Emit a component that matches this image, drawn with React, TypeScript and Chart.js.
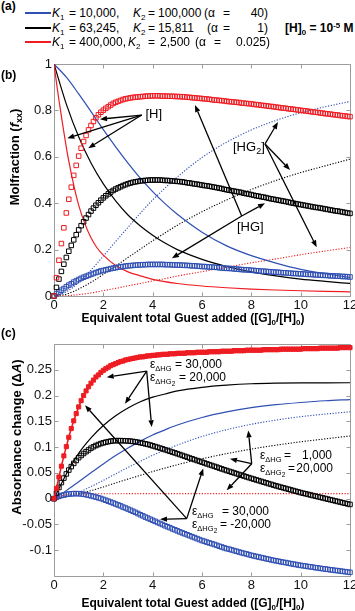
import React, { useEffect, useRef } from 'react';
import { Chart, registerables } from 'chart.js';
Chart.register(...registerables);

const FONT = '"Liberation Sans", Arial, sans-serif';
const BLUE = '#2f4fb3';
const RED = '#ee1d23';
const BLACK = '#000000';
const FRAME = '#9c9c9c';

// ---------- x values (equivalents of guest added) ----------
const equivFine = [0,0.1,0.2,0.3,0.4,0.5,0.6,0.7,0.8,0.9,1,1.1,1.2,1.3,1.4,1.5,1.6,1.7,1.8,1.9,2,2.1,2.2,2.3,2.4,2.5,2.6,2.7,2.8,2.9,3,3.1,3.2,3.3,3.4,3.5,3.6,3.7,3.8,3.9,4,4.1,4.2,4.3,4.4,4.5,4.6,4.7,4.8,4.9,5,5.1,5.2,5.3,5.4,5.5,5.6,5.7,5.8,5.9,6,6.1,6.2,6.3,6.4,6.5,6.6,6.7,6.8,6.9,7,7.1,7.2,7.3,7.4,7.5,7.6,7.7,7.8,7.9,8,8.1,8.2,8.3,8.4,8.5,8.6,8.7,8.8,8.9,9,9.1,9.2,9.3,9.4,9.5,9.6,9.7,9.8,9.9,10,10.1,10.2,10.3,10.4,10.5,10.6,10.7,10.8,10.9,11,11.1,11.2,11.3,11.4,11.5,11.6,11.7,11.8,11.9,12];
const equivCoarse = [0,0.5,1,1.5,2,2.5,3,3.5,4,4.5,5,6,7,8,9,10,11,12];
const equivRedH = [0,0.1,0.2,0.3,0.4,0.5,0.6,0.8,1,1.25,1.5,1.75,2,2.5,3,3.5,4,5,6,7,8,9,10,11,12];
const equivRedDotC = [0,0.2,0.4,0.6,1,2,4,6,8,10,12];

const xTicks = [0,2,4,6,8,10,12];
const yTicksB = [0,0.2,0.4,0.6,0.8,1];
const yTicksC = [-0.1,-0.05,0,0.05,0.1,0.15,0.2,0.25];

// ---------- panel (b): mole fractions ----------
// [H] (solid lines)
const bBlueH = [1,0.943,0.871,0.795,0.717,0.643,0.573,0.508,0.45,0.398,0.352,0.275,0.216,0.174,0.142,0.115,0.096,0.08];
const bBlackH = [1,0.827,0.686,0.573,0.483,0.41,0.349,0.302,0.262,0.228,0.2,0.158,0.127,0.104,0.0866,0.073,0.063,0.054];
const bRedH = [1,0.92,0.845,0.775,0.706,0.641,0.581,0.478,0.392,0.312,0.251,0.207,0.176,0.131,0.104,0.087,0.072,0.054,0.043,0.0355,0.0298,0.0258,0.0226,0.02,0.018];
// [HG2] (dotted lines)
const bBlueHG2 = [0,0.018,0.058,0.112,0.172,0.235,0.296,0.357,0.414,0.465,0.513,0.597,0.663,0.716,0.757,0.79,0.816,0.838];
const bBlackHG2 = [0,0.008,0.03,0.059,0.093,0.129,0.166,0.202,0.238,0.272,0.305,0.363,0.414,0.459,0.498,0.532,0.561,0.59];
const bRedHG2 = [0,0.001,0.006,0.013,0.023,0.033,0.044,0.054,0.065,0.075,0.086,0.105,0.124,0.143,0.16,0.178,0.194,0.209];
// [HG] (square markers)
const bRedHG = [
  0,0.079,0.154,0.226,0.294,0.358,0.417,0.469,0.52,0.563,
  0.603,0.637,0.666,0.692,0.716,0.735,0.752,0.768,0.781,0.792,
  0.801,0.809,0.816,0.823,0.83,0.835,0.839,0.843,0.847,0.85,
  0.852,0.854,0.856,0.857,0.858,0.859,0.86,0.861,0.862,0.862,
  0.863,0.863,0.863,0.862,0.862,0.862,0.861,0.861,0.861,0.86,
  0.86,0.859,0.859,0.858,0.857,0.856,0.855,0.854,0.853,0.852,
  0.851,0.85,0.849,0.848,0.846,0.845,0.844,0.843,0.842,0.841,
  0.839,0.838,0.837,0.836,0.835,0.834,0.832,0.831,0.83,0.829,
  0.828,0.826,0.825,0.824,0.822,0.821,0.82,0.818,0.817,0.816,
  0.814,0.813,0.811,0.81,0.809,0.807,0.806,0.805,0.803,0.802,
  0.8,0.799,0.798,0.796,0.795,0.793,0.792,0.791,0.789,0.788,
  0.786,0.785,0.784,0.782,0.781,0.78,0.778,0.777,0.776,0.774,
  0.773];
const bBlackHG = [
  0,0.037,0.073,0.106,0.137,0.166,0.193,0.218,0.242,0.264,
  0.285,0.303,0.32,0.336,0.351,0.366,0.379,0.391,0.402,0.413,
  0.423,0.432,0.44,0.448,0.455,0.461,0.466,0.471,0.476,0.48,
  0.484,0.487,0.49,0.492,0.494,0.496,0.497,0.498,0.499,0.5,
  0.5,0.5,0.5,0.5,0.499,0.498,0.498,0.497,0.496,0.495,
  0.494,0.493,0.492,0.49,0.488,0.487,0.485,0.483,0.482,0.48,
  0.478,0.476,0.475,0.473,0.471,0.469,0.467,0.465,0.463,0.46,
  0.458,0.456,0.454,0.452,0.45,0.448,0.446,0.443,0.441,0.439,
  0.437,0.434,0.432,0.43,0.428,0.426,0.424,0.421,0.419,0.417,
  0.415,0.413,0.411,0.409,0.407,0.405,0.402,0.4,0.398,0.396,
  0.394,0.392,0.39,0.388,0.386,0.384,0.382,0.381,0.379,0.377,
  0.375,0.373,0.371,0.369,0.367,0.366,0.364,0.362,0.36,0.358,
  0.356];
const bBlueHG = [
  0,0.009,0.017,0.025,0.032,0.04,0.047,0.053,0.06,0.065,
  0.071,0.076,0.081,0.085,0.089,0.093,0.097,0.101,0.104,0.108,
  0.11,0.113,0.115,0.118,0.12,0.122,0.124,0.126,0.127,0.129,
  0.13,0.131,0.132,0.133,0.134,0.134,0.135,0.135,0.136,0.136,
  0.136,0.136,0.136,0.136,0.136,0.135,0.135,0.135,0.134,0.134,
  0.134,0.133,0.133,0.132,0.132,0.131,0.13,0.13,0.129,0.128,
  0.127,0.127,0.126,0.125,0.125,0.124,0.123,0.122,0.121,0.12,
  0.119,0.119,0.118,0.117,0.116,0.115,0.114,0.113,0.113,0.112,
  0.111,0.11,0.109,0.108,0.107,0.107,0.106,0.105,0.104,0.103,
  0.103,0.102,0.101,0.1,0.1,0.099,0.098,0.097,0.097,0.096,
  0.095,0.095,0.094,0.093,0.093,0.092,0.091,0.091,0.09,0.089,
  0.089,0.088,0.087,0.087,0.086,0.086,0.085,0.084,0.084,0.083,
  0.082];

// ---------- panel (c): absorbance change ----------
const cRedA = [
  0,0.02,0.042,0.063,0.083,0.101,0.119,0.136,0.151,0.165,
  0.178,0.19,0.2,0.209,0.217,0.224,0.23,0.236,0.24,0.245,
  0.249,0.252,0.255,0.258,0.26,0.262,0.264,0.266,0.267,0.269,
  0.27,0.271,0.272,0.273,0.274,0.275,0.275,0.276,0.277,0.277,
  0.278,0.278,0.279,0.279,0.28,0.28,0.28,0.281,0.281,0.281,
  0.282,0.282,0.282,0.282,0.283,0.283,0.283,0.283,0.284,0.284,
  0.284,0.284,0.284,0.285,0.285,0.285,0.285,0.285,0.286,0.286,
  0.286,0.286,0.286,0.287,0.287,0.287,0.287,0.287,0.288,0.288,
  0.288,0.288,0.288,0.288,0.288,0.289,0.289,0.289,0.289,0.289,
  0.289,0.289,0.29,0.29,0.29,0.29,0.29,0.29,0.29,0.29,
  0.29,0.291,0.291,0.291,0.291,0.291,0.291,0.291,0.292,0.292,
  0.292,0.292,0.292,0.292,0.292,0.292,0.293,0.293,0.293,0.293,
  0.293];
const cBlackA = [
  0,0.011,0.0217,0.0312,0.0399,0.048,0.0555,0.0622,0.0684,0.074,
  0.0795,0.0837,0.0876,0.0912,0.0945,0.098,0.1007,0.1031,0.105,0.1069,
  0.1083,0.1096,0.1106,0.1116,0.1121,0.1125,0.1126,0.1125,0.1124,0.1122,
  0.112,0.1115,0.111,0.1102,0.1094,0.1086,0.1075,0.1064,0.1053,0.1041,
  0.1025,0.1011,0.0996,0.0981,0.0966,0.095,0.0935,0.0919,0.0903,0.0888,
  0.0872,0.0855,0.0839,0.0822,0.0806,0.0789,0.0773,0.0757,0.074,0.0724,
  0.0708,0.0692,0.0675,0.0659,0.0643,0.0627,0.0611,0.0594,0.0578,0.0562,
  0.0546,0.0531,0.0515,0.05,0.0485,0.0469,0.0454,0.0439,0.0423,0.0408,
  0.0393,0.0379,0.0364,0.035,0.0335,0.0321,0.0307,0.0292,0.0278,0.0263,
  0.0249,0.0236,0.0223,0.021,0.0197,0.0184,0.017,0.0157,0.0144,0.0131,
  0.0118,0.0106,0.0095,0.0083,0.0072,0.006,0.0049,0.0037,0.0026,0.0014,
  0.0003,-0.0009,-0.002,-0.0032,-0.0043,-0.0055,-0.0066,-0.0078,-0.0089,-0.0101,
  -0.0112];
const cBlueA = [
  0,0.0025,0.0045,0.0061,0.0072,0.0084,0.0091,0.0093,0.0098,0.0097,
  0.0097,0.0092,0.0085,0.0077,0.0067,0.0055,0.0043,0.0031,0.0016,0.0004,
  -0.0014,-0.0031,-0.0049,-0.0066,-0.0084,-0.0104,-0.0122,-0.014,-0.0163,-0.0181,
  -0.0202,-0.0223,-0.0244,-0.0265,-0.0288,-0.0312,-0.0333,-0.0357,-0.0376,-0.0398,
  -0.042,-0.044,-0.0462,-0.0482,-0.0502,-0.0525,-0.0545,-0.0563,-0.0586,-0.0604,
  -0.0624,-0.0645,-0.0663,-0.0682,-0.07,-0.0719,-0.0738,-0.0756,-0.0775,-0.0794,
  -0.0813,-0.0827,-0.0844,-0.0859,-0.0873,-0.0888,-0.0905,-0.0922,-0.0937,-0.0954,
  -0.0969,-0.0979,-0.0994,-0.1007,-0.102,-0.1035,-0.1048,-0.1061,-0.1071,-0.1086,
  -0.1099,-0.111,-0.1121,-0.1132,-0.1143,-0.1153,-0.1164,-0.1175,-0.1186,-0.1197,
  -0.1205,-0.1214,-0.1225,-0.1234,-0.124,-0.1251,-0.126,-0.1269,-0.1277,-0.1286,
  -0.1295,-0.1301,-0.1308,-0.1317,-0.1321,-0.133,-0.1339,-0.1343,-0.1352,-0.1359,
  -0.1365,-0.1372,-0.1379,-0.1385,-0.1392,-0.1396,-0.1403,-0.141,-0.1416,-0.1423,
  -0.143];
const cBlackLine = [0,0.048,0.088,0.118,0.142,0.161,0.176,0.188,0.197,0.203,0.209,0.216,0.2202,0.2229,0.2241,0.2246,0.2247,0.2248];
const cBlueLine = [0,0.0156,0.0329,0.0503,0.0674,0.0836,0.0982,0.1116,0.1236,0.1335,0.1428,0.1575,0.1683,0.1765,0.1823,0.1865,0.1899,0.1922];
const cBlueDot = [0,0.004,0.0123,0.0233,0.0355,0.0482,0.0605,0.0727,0.0842,0.0944,0.1039,0.1207,0.1338,0.1443,0.1524,0.159,0.1641,0.1684];
const cBlackDot = [0,0.0035,0.0089,0.0155,0.0228,0.0304,0.038,0.0452,0.0526,0.0593,0.0659,0.0774,0.0874,0.0962,0.1038,0.1103,0.116,0.1216];
const cRedDot = [0,0.004,0.0065,0.008,0.0092,0.0096,0.0097,0.0097,0.0097,0.0097,0.0097];

// ---------- annotation arrows (data coordinates) ----------
type Arrow = { from: [number, number]; to: [number, number] };
const arrowsB: Arrow[] = [
  { from: [3.555, 0.78], to: [1.865, 0.762] },
  { from: [3.555, 0.78], to: [0.539, 0.68] },
  { from: [3.555, 0.78], to: [1.39, 0.637] },
  { from: [8.554, 0.655], to: [9.08, 0.75] },
  { from: [8.554, 0.655], to: [9.57, 0.543] },
  { from: [8.554, 0.655], to: [10.65, 0.21] },
  { from: [7.61, 0.345], to: [5.716, 0.823] },
  { from: [7.61, 0.345], to: [8.554, 0.4] },
  { from: [7.61, 0.345], to: [4.78, 0.1625] },
];
const arrowsC: Arrow[] = [
  { from: [3.758, 0.2473], to: [2.136, 0.2357] },
  { from: [3.758, 0.2473], to: [2.878, 0.1841] },
  { from: [3.758, 0.2473], to: [3.961, 0.1388] },
  { from: [8.015, 0.0678], to: [7.877, 0.1324] },
  { from: [8.015, 0.0678], to: [7.135, 0.0775] },
  { from: [8.015, 0.0678], to: [7.0, 0.0161] },
  { from: [5.38, -0.0388], to: [6.05, 0.0587] },
  { from: [5.38, -0.0388], to: [1.257, 0.1812] },
  { from: [5.38, -0.0388], to: [4.297, -0.04] },
];

const fmt = (v: any) => String(Number(Number(v).toFixed(3)));
const pts = (xs: number[], ys: number[]) => xs.map((x, i) => ({ x, y: ys[i] }));

function lineDs(xs: number[], ys: number[], color: string, dotted: boolean) {
  return {
    data: pts(xs, ys), showLine: true, borderColor: color, borderWidth: dotted ? 1.1 : 1.2,
    borderDash: dotted ? [1.2, 1.6] : [], pointRadius: 0, fill: false,
    cubicInterpolationMode: 'monotone',
  };
}
function markerDs(xs: number[], ys: number[], color: string, filled: boolean) {
  return {
    data: pts(xs, ys), showLine: filled, borderColor: color, borderWidth: filled ? 1.6 : 0,
    pointStyle: 'rect', pointRadius: filled ? 2.9 : 3.2, pointBorderWidth: 1,
    pointBorderColor: color, pointBackgroundColor: filled ? color : 'rgba(0,0,0,0)',
    clip: false, fill: false,
  };
}

function framePlugin(arrows: Arrow[]) {
  return {
    id: 'frameArrows',
    beforeDatasetsDraw(chart: any) {
      const { ctx, chartArea: a, scales } = chart;
      const l = Math.round(a.left) + 0.5, r = Math.round(a.right) + 0.5;
      const t = Math.round(a.top) + 0.5, b = Math.round(a.bottom) + 0.5;
      ctx.save();
      ctx.strokeStyle = FRAME;
      ctx.lineWidth = 1;
      ctx.beginPath();
      ctx.rect(l, t, r - l, b - t);
      for (const tk of scales.x.ticks) {
        const p = Math.round(scales.x.getPixelForValue(tk.value)) + 0.5;
        ctx.moveTo(p, b); ctx.lineTo(p, b - 4);
        ctx.moveTo(p, t); ctx.lineTo(p, t + 4);
      }
      for (const tk of scales.y.ticks) {
        const p = Math.round(scales.y.getPixelForValue(tk.value)) + 0.5;
        ctx.moveTo(l, p); ctx.lineTo(l + 4, p);
        ctx.moveTo(r, p); ctx.lineTo(r - 4, p);
      }
      ctx.stroke();
      ctx.restore();
    },
    afterDatasetsDraw(chart: any) {
      const { ctx, scales } = chart;
      ctx.save();
      ctx.strokeStyle = '#000';
      ctx.fillStyle = '#000';
      ctx.lineWidth = 1.3;
      for (const ar of arrows) {
        const x0 = scales.x.getPixelForValue(ar.from[0]);
        const y0 = scales.y.getPixelForValue(ar.from[1]);
        const x1 = scales.x.getPixelForValue(ar.to[0]);
        const y1 = scales.y.getPixelForValue(ar.to[1]);
        const ang = Math.atan2(y1 - y0, x1 - x0);
        const L = 7, W = 2.7;
        const bx = x1 - L * Math.cos(ang), by = y1 - L * Math.sin(ang);
        ctx.beginPath(); ctx.moveTo(x0, y0); ctx.lineTo(bx, by); ctx.stroke();
        ctx.beginPath();
        ctx.moveTo(x1, y1);
        ctx.lineTo(bx + W * Math.sin(ang), by - W * Math.cos(ang));
        ctx.lineTo(bx - W * Math.sin(ang), by + W * Math.cos(ang));
        ctx.closePath(); ctx.fill();
      }
      ctx.restore();
    },
  };
}

type PanelProps = { top: number; height: number; xAxisH: number; build: () => any[]; yMin: number; yMax: number; yTicks: number[]; arrows: Arrow[] };

function Panel({ top, height, xAxisH, build, yMin, yMax, yTicks, arrows }: PanelProps) {
  const ref = useRef<HTMLCanvasElement>(null);
  useEffect(() => {
    const tickFont = { family: FONT, size: 13 };
    const chart = new Chart(ref.current as HTMLCanvasElement, {
      type: 'scatter',
      data: { datasets: build() },
      options: {
        responsive: false,
        animation: false,
        events: [],
        layout: { padding: { top: 14, right: 5, left: 0, bottom: 0 } },
        plugins: { legend: { display: false }, tooltip: { enabled: false } },
        scales: {
          x: {
            type: 'linear', min: 0, max: 12,
            grid: { display: false, drawTicks: false },
            border: { display: false },
            ticks: { font: tickFont, color: '#111', padding: 2, maxRotation: 0, autoSkip: false, callback: fmt },
            afterBuildTicks: (s: any) => { s.ticks = xTicks.map((v) => ({ value: v })); },
            afterFit: (s: any) => { s.height = xAxisH; s.paddingLeft = 0; s.paddingRight = 0; },
          },
          y: {
            type: 'linear', min: yMin, max: yMax,
            grid: { display: false, drawTicks: false },
            border: { display: false },
            ticks: { font: tickFont, color: '#111', padding: 2, autoSkip: false, callback: fmt },
            afterBuildTicks: (s: any) => { s.ticks = yTicks.map((v) => ({ value: v })); },
            afterFit: (s: any) => { s.width = 54; s.paddingTop = 0; s.paddingBottom = 0; },
          },
        },
      } as any,
      plugins: [framePlugin(arrows)],
    });
    return () => chart.destroy();
  }, []);
  return <canvas ref={ref} width={355} height={height} style={{ position: 'absolute', left: 0, top, width: 355, height }} />;
}

function buildB() {
  return [
    markerDs(equivFine, bRedHG, RED, false),
    markerDs(equivFine, bBlackHG, BLACK, false),
    markerDs(equivFine, bBlueHG, BLUE, false),
    lineDs(equivRedH, bRedH, RED, false),
    lineDs(equivCoarse, bBlackH, BLACK, false),
    lineDs(equivCoarse, bBlueH, BLUE, false),
    lineDs(equivCoarse, bRedHG2, RED, true),
    lineDs(equivCoarse, bBlackHG2, BLACK, true),
    lineDs(equivCoarse, bBlueHG2, BLUE, true),
  ];
}
function buildC() {
  return [
    markerDs(equivFine, cRedA, RED, true),
    markerDs(equivFine, cBlackA, BLACK, false),
    markerDs(equivFine, cBlueA, BLUE, false),
    lineDs(equivCoarse, cBlackLine, BLACK, false),
    lineDs(equivCoarse, cBlueLine, BLUE, false),
    lineDs(equivCoarse, cBlueDot, BLUE, true),
    lineDs(equivCoarse, cBlackDot, BLACK, true),
    lineDs(equivRedDotC, cRedDot, RED, true),
  ];
}

const Sub = ({ children, size = 8, dy = 3 }: any) => (
  <span style={{ fontSize: size, position: 'relative', top: dy }}>{children}</span>
);
const Sup = ({ children, size = 8, dy = -4 }: any) => (
  <span style={{ fontSize: size, position: 'relative', top: dy }}>{children}</span>
);

function T({ x, cy, size = 12, bold = false, anchor = 'left', children }: any) {
  const tr = anchor === 'center' ? 'translateX(-50%)' : anchor === 'right' ? 'translateX(-100%)' : undefined;
  return (
    <div style={{ position: 'absolute', left: x, top: cy - size * 0.49, fontSize: size, lineHeight: `${size}px`, fontWeight: bold ? 'bold' : 'normal', whiteSpace: 'pre', transform: tr }}>
      {children}
    </div>
  );
}

const K = ({ n }: any) => (<><i>K</i><Sub>{n}</Sub></>);
const Eps = ({ two }: any) => (
  <>ε<span style={{ fontSize: 7.5, position: 'relative', top: 3 }}>ΔHG{two ? <span style={{ fontSize: 6.5, position: 'relative', top: 2 }}>2</span> : null}</span></>
);

function VTitle({ cx, cy, children }: any) {
  return (
    <div style={{ position: 'absolute', left: cx, top: cy, transform: 'translate(-50%,-50%) rotate(-90deg)', fontSize: 13, lineHeight: '13px', fontWeight: 'bold', whiteSpace: 'nowrap' }}>
      {children}
    </div>
  );
}

export default function App() {
  const rows = [12.5, 27.5, 41.5];
  return (
    <div style={{ position: 'absolute', left: 0, top: 0, width: 355, height: 611, background: '#fff', fontFamily: FONT, color: '#000', overflow: 'hidden' }}>
      <Panel top={50} height={280} xAxisH={34} build={buildB} yMin={0} yMax={1} yTicks={yTicksB} arrows={arrowsB} />
      <Panel top={330} height={281} xAxisH={35} build={buildC} yMin={-0.15} yMax={0.3} yTicks={yTicksC} arrows={arrowsC} />

      {/* (a) header legend */}
      <T x={1} cy={6} bold>(a)</T>
      <div style={{ position: 'absolute', left: 25, top: rows[0] - 1, width: 26, height: 2, background: BLUE }} />
      <div style={{ position: 'absolute', left: 25, top: rows[1] - 1, width: 26, height: 2, background: BLACK }} />
      <div style={{ position: 'absolute', left: 25, top: rows[2] - 1, width: 26, height: 2, background: RED }} />

      <T x={52} cy={rows[0]}><K n="1" /></T>
      <T x={69} cy={rows[0]}>= 10,000,</T>
      <T x={133} cy={rows[0]}><K n="2" /></T>
      <T x={148} cy={rows[0]}>=</T>
      <T x={158} cy={rows[0]}>100,000</T>
      <T x={204} cy={rows[0]}>(α</T>
      <T x={223} cy={rows[0]}>=</T>
      <T x={268} cy={rows[0]} anchor="right">40)</T>

      <T x={52} cy={rows[1]}><K n="1" /></T>
      <T x={69} cy={rows[1]}>= 63,245,</T>
      <T x={133} cy={rows[1]}><K n="2" /></T>
      <T x={148} cy={rows[1]}>=</T>
      <T x={158} cy={rows[1]}>15,811</T>
      <T x={207} cy={rows[1]}>(α</T>
      <T x={223} cy={rows[1]}>=</T>
      <T x={268} cy={rows[1]} anchor="right">1)</T>
      <T x={285} cy={rows[1]} bold>[H]<Sub>0</Sub> = 10<Sup>-5</Sup> M</T>

      <T x={52} cy={rows[2]}><K n="1" /></T>
      <T x={69} cy={rows[2]}>= 400,000,</T>
      <T x={128} cy={rows[2]}><K n="2" /></T>
      <T x={148} cy={rows[2]}>=</T>
      <T x={160} cy={rows[2]}>2,500</T>
      <T x={195} cy={rows[2]}>(α</T>
      <T x={214} cy={rows[2]}>=</T>
      <T x={270} cy={rows[2]} anchor="right">0.025)</T>

      {/* (b) */}
      <T x={1} cy={75} bold>(b)</T>
      <VTitle cx={14.5} cy={157}>Molfraction (<i>f</i><Sub size={9}>xx</Sub>)</VTitle>
      <T x={193} cy={317.5} bold anchor="center">Equivalent total Guest added ([G]<Sub>0</Sub>/[H]<Sub>0</Sub>)</T>
      <T x={145.5} cy={113} size={13}>[H]</T>
      <T x={233} cy={146} size={13}>[HG<Sub size={9}>2</Sub>]</T>
      <T x={237} cy={226} size={13}>[HG]</T>

      {/* (c) */}
      <T x={1} cy={333} bold>(c)</T>
      <VTitle cx={15.5} cy={437}>Absorbance change (Δ<i>A</i>)</VTitle>
      <T x={193} cy={602.5} bold anchor="center">Equivalent total Guest added ([G]<Sub>0</Sub>/[H]<Sub>0</Sub>)</T>

      <T x={150} cy={364}><Eps /></T>
      <T x={175} cy={364}>= 30,000</T>
      <T x={150} cy={377}><Eps two /></T>
      <T x={179} cy={377}>= 20,000</T>

      <T x={260} cy={455}><Eps /></T>
      <T x={284} cy={455}>=</T>
      <T x={332} cy={455} anchor="right">1,000</T>
      <T x={260} cy={468}><Eps two /></T>
      <T x={288} cy={468}>=</T>
      <T x={333} cy={468} anchor="right">20,000</T>

      <T x={192} cy={510.5}><Eps /></T>
      <T x={222} cy={510.5}>= 30,000</T>
      <T x={192} cy={523.5}><Eps two /></T>
      <T x={220} cy={523.5}>= -20,000</T>
    </div>
  );
}
